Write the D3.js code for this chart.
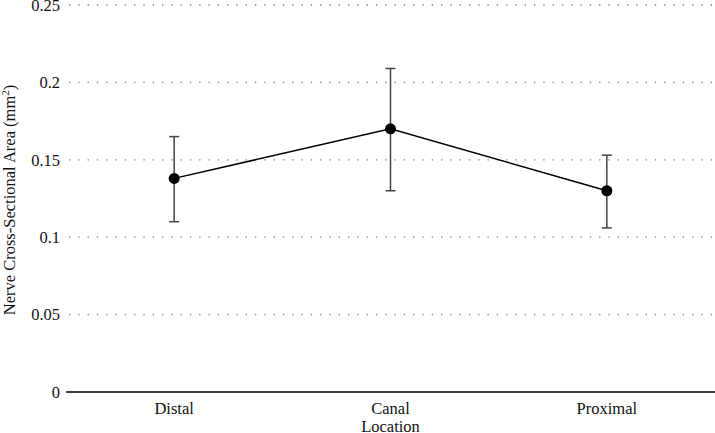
<!DOCTYPE html>
<html><head><meta charset="utf-8">
<script src="https://cdn.jsdelivr.net/npm/d3@7"></script>
<style>body{margin:0;background:#fff}svg{display:block}text{font-family:"Liberation Serif","DejaVu Serif",serif}</style>
</head><body><svg id="c" width="715" height="433"></svg>
<script>
const categories = ["Distal", "Canal", "Proximal"];
const means = [0.138, 0.170, 0.130];
const upper = [0.165, 0.209, 0.153];
const lower = [0.110, 0.130, 0.106];
const yTicks = [0, 0.05, 0.1, 0.15, 0.2, 0.25];
const yTickLabels = ["0", "0.05", "0.1", "0.15", "0.2", "0.25"];

const svg = d3.select("#c");
const W = 715, H = 433;
const m = {left: 66, right: 0, top: 5, bottom: 41};
const x = d3.scalePoint().domain(categories).range([m.left, W - m.right]).padding(0.5);
const y = d3.scaleLinear().domain([0, 0.25]).range([H - m.bottom, m.top]);
const FS = 16.5;

// gridlines
svg.append("g").selectAll("line").data(yTicks.filter(d => d > 0)).join("line")
  .attr("x1", m.left + 3).attr("x2", W).attr("y1", d => y(d)).attr("y2", d => y(d))
  .attr("stroke", "#777").attr("stroke-width", 1.3).attr("stroke-dasharray", "1.3,8");

// y tick labels
svg.append("g").selectAll("text").data(yTicks).join("text")
  .attr("x", m.left - 6).attr("y", d => y(d)).attr("dy", "0.35em")
  .attr("text-anchor", "end").attr("font-size", FS).attr("fill", "#111")
  .text((d, i) => yTickLabels[i]);

// x axis line
svg.append("line").attr("x1", m.left).attr("x2", W).attr("y1", y(0)).attr("y2", y(0))
  .attr("stroke", "#000").attr("stroke-width", 1.5);

// x labels
svg.append("g").selectAll("text").data(categories).join("text")
  .attr("x", d => x(d)).attr("y", y(0) + 22).attr("text-anchor", "middle")
  .attr("font-size", FS).attr("fill", "#111").text(d => d);
svg.append("text").attr("x", x("Canal")).attr("y", y(0) + 40).attr("text-anchor", "middle")
  .attr("font-size", FS).attr("fill", "#111").text("Location");

// y label
svg.append("text").attr("transform", `translate(15,200) rotate(-90)`)
  .attr("text-anchor", "middle").attr("font-size", FS).attr("fill", "#111")
  .html('Nerve Cross-Sectional Area (mm<tspan dy="-6" font-size="11">2</tspan><tspan dy="6">)</tspan>');

// error bars
const data = categories.map((c, i) => ({c, m: means[i], u: upper[i], l: lower[i]}));
const eb = svg.append("g").attr("stroke", "#444").attr("stroke-width", 1.5);
eb.selectAll(".v").data(data).join("line").attr("x1", d => x(d.c)).attr("x2", d => x(d.c))
  .attr("y1", d => y(d.u)).attr("y2", d => y(d.l));
eb.selectAll(".t").data(data).join("line").attr("x1", d => x(d.c) - 5).attr("x2", d => x(d.c) + 5)
  .attr("y1", d => y(d.u)).attr("y2", d => y(d.u));
eb.selectAll(".b").data(data).join("line").attr("x1", d => x(d.c) - 5).attr("x2", d => x(d.c) + 5)
  .attr("y1", d => y(d.l)).attr("y2", d => y(d.l));

// line
svg.append("path").datum(data).attr("fill", "none").attr("stroke", "#000").attr("stroke-width", 1.5)
  .attr("d", d3.line().x(d => x(d.c)).y(d => y(d.m)));

// points
svg.append("g").selectAll("circle").data(data).join("circle")
  .attr("cx", d => x(d.c)).attr("cy", d => y(d.m)).attr("r", 5.5).attr("fill", "#000");
</script></body></html>
